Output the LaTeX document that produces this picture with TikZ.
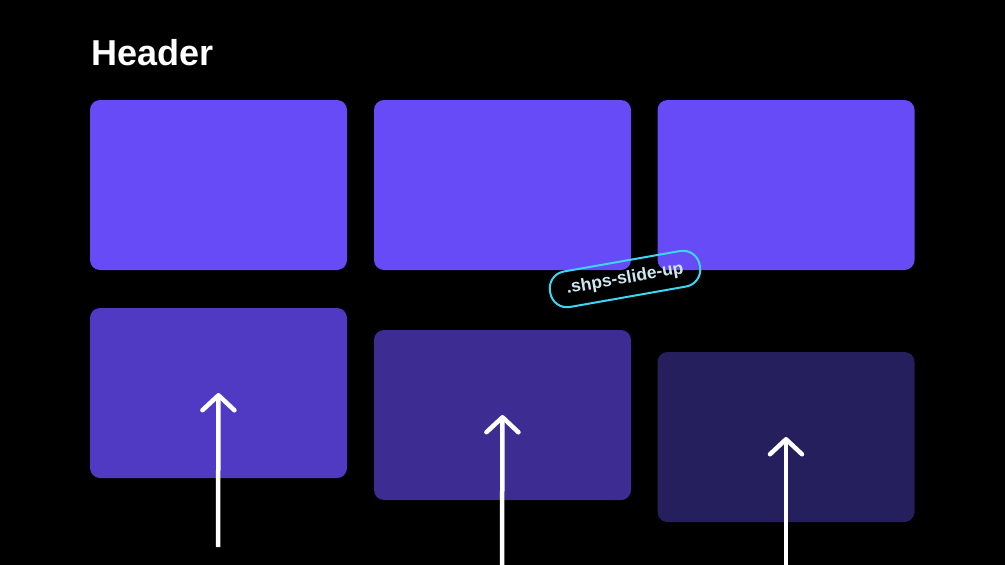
\documentclass[tikz,border=0pt]{standalone}
\usepackage{fontspec}
\setmainfont{Liberation Sans}
\usepackage{tikz}
\usetikzlibrary{arrows.meta}
\usetikzlibrary{positioning}
\definecolor{topcol}{RGB}{102,75,247}
\definecolor{botA}{RGB}{80,58,196}
\definecolor{botB}{RGB}{61,45,146}
\definecolor{botC}{RGB}{38,31,94}
\definecolor{tagline}{RGB}{60,214,240}
\definecolor{tagtext}{RGB}{205,232,240}
\tikzset{>=latex}
\tikzstyle{card} = [rectangle, rounded corners=10pt, minimum width=257pt, minimum height=170pt, inner sep=0pt]
\tikzstyle{rise} = [-{Straight Barb[length=15pt, width=32pt, line width=4.5pt, round]}, draw=white, line width=4.5pt]

\begin{document}
\begin{tikzpicture}[x=1pt, y=-1pt]
\fill [black] (0, 0) rectangle (1005, 565);
\useasboundingbox (0, 0) rectangle (1005, 565);
\node [anchor=west, text=white, font=\fontsize{36}{40}\selectfont\bfseries] (H) at (88, 53) {Header};
\node [card, fill=topcol] (T1) at (218.5, 185) {};
\node [card, fill=topcol] (T2) at (502.5, 185) {};
\node [card, fill=topcol] (T3) at (786, 185) {};
\node [card, fill=botA] (B1) at (218.5, 393) {};
\node [card, fill=botB] (B2) at (502.5, 415) {};
\node [card, fill=botC] (B3) at (786, 437) {};
\coordinate (S1) at (218, 547);
\coordinate (S2) at (502, 565);
\coordinate (S3) at (786, 565);
\draw [rise] (S1) to (B1.center);
\draw [rise] (S2) to (B2.center);
\draw [rise] (S3) to (B3.center);
\node [rounded corners=17pt, draw=tagline, line width=2pt, minimum width=152pt, minimum height=36pt, rotate=10, text=tagtext, font=\fontsize{17.5}{20}\selectfont\bfseries] (tag) at (625, 279) {.shps-slide-up};
\end{tikzpicture}
\end{document}
